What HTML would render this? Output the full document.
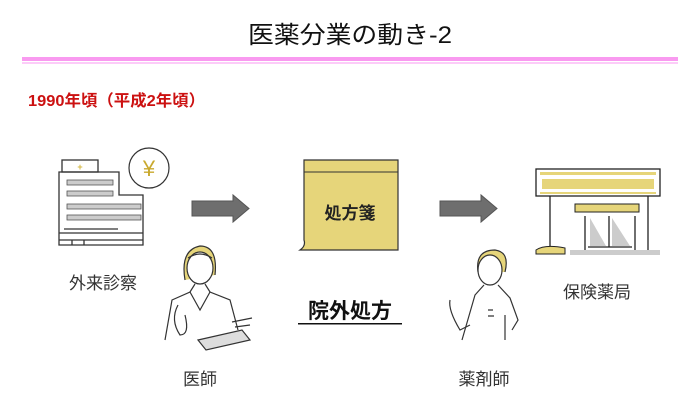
<!DOCTYPE html>
<html><head><meta charset="utf-8"><style>
html,body{margin:0;padding:0;background:#fff;}
svg{display:block;}
text{font-family:"Liberation Sans","Noto Sans CJK JP",sans-serif;}
</style></head><body>
<svg width="700" height="403" viewBox="0 0 700 403" xmlns="http://www.w3.org/2000/svg">
<text x="350" y="43" font-size="24" text-anchor="middle" fill="#111" textLength="204" lengthAdjust="spacingAndGlyphs">医薬分業の動き-2</text>
<rect x="22" y="57" width="656" height="4" fill="#f99af0"/>
<rect x="22" y="62.5" width="656" height="1" fill="#f99af0"/>
<text x="28" y="106" font-size="16" font-weight="bold" fill="#cc1111" textLength="177" lengthAdjust="spacingAndGlyphs">1990年頃（平成2年頃）</text>

<!-- clinic -->
<g fill="none" stroke="#333" stroke-width="1.3">
<rect x="62" y="160" width="36" height="12"/>
<path d="M59 172 H119 V195 H143 V245 H59 Z"/>
<path d="M64 229 H118 M59 233 H143 M59 240 H143 M72 240 V245 M84 240 V245"/>
</g>
<rect x="67" y="180" width="46" height="5" fill="#ccc" stroke="#555" stroke-width="0.8"/>
<rect x="67" y="191" width="46" height="5" fill="#ccc" stroke="#555" stroke-width="0.8"/>
<rect x="67" y="204" width="74" height="5" fill="#ccc" stroke="#555" stroke-width="0.8"/>
<rect x="67" y="215" width="74" height="5" fill="#ccc" stroke="#555" stroke-width="0.8"/>
<text x="80" y="170" font-size="9" fill="#d4b840" text-anchor="middle" font-weight="bold">+</text>
<circle cx="149" cy="168" r="20" fill="#fff" stroke="#333" stroke-width="1.2"/>
<text x="149" y="176" font-size="22" text-anchor="middle" fill="#c9a92e">¥</text>
<text x="103" y="289" font-size="17" text-anchor="middle" fill="#333">外来診察</text>

<!-- arrows -->
<path d="M192 201 H233 V195 L249 208.5 L233 222 V216 H192 Z" fill="#6e6e6e" stroke="#555"/>
<path d="M440 201 H481 V195 L497 208.5 L481 222 V216 H440 Z" fill="#6e6e6e" stroke="#555"/>

<!-- prescription -->
<path d="M304 160 H398 V250 H300 Q306 246 304 240 Z" fill="#e6d57a" stroke="#333" stroke-width="1.2"/>
<path d="M304 172 H398" stroke="#333" stroke-width="1"/>
<text x="350" y="219" font-size="17" font-weight="bold" text-anchor="middle" fill="#222">処方箋</text>
<text x="350" y="318" font-size="21" font-weight="bold" text-anchor="middle" fill="#111">院外処方</text>
<rect x="298" y="323" width="104" height="1.5" fill="#111"/>

<!-- doctor -->
<g fill="none" stroke="#333" stroke-width="1.2">
<path d="M185 280 Q180 250 200 246 Q218 246 215 275" fill="#e6d57a"/>
<ellipse cx="200" cy="268" rx="13" ry="16" fill="#fff"/>
<path d="M188 258 Q200 250 212 258"/>
<path d="M195 284 L190 292 L172 300 L165 340 M205 284 L210 292 L230 300 L238 330"/>
<path d="M190 292 L200 310 L210 292"/>
<path d="M178 305 Q170 320 180 335 Q190 335 185 315"/>
<path d="M198 340 L242 330 L250 340 L206 350 Z" fill="#ddd"/>
<path d="M232 322 L252 318 M235 327 L250 325"/>
</g>
<text x="200" y="385" font-size="17" text-anchor="middle" fill="#333">医師</text>

<!-- pharmacy -->
<g fill="none" stroke="#222" stroke-width="1.3">
<rect x="536" y="169" width="124" height="27"/>
<path d="M550 196 V250 M648 196 V250"/>
<path d="M585 216 V250 M635 216 V250 M609 216 V247 M588 247 H632"/>
</g>
<rect x="540" y="172" width="116" height="3" fill="#e6d57a"/>
<rect x="542" y="179" width="112" height="10" fill="#e6d57a"/>
<rect x="540" y="192" width="116" height="2" fill="#e6d57a"/>
<rect x="575" y="204" width="64" height="8" fill="#e6d57a" stroke="#222" stroke-width="1"/>
<path d="M590 218 L606 246 H590 Z M612 218 L630 246 H612 Z" fill="#ccc"/>
<rect x="570" y="250" width="90" height="5" fill="#ccc"/>
<path d="M536 254 V250 Q545 244 565 248 V254 Z" fill="#e6d57a" stroke="#222"/>
<text x="597" y="298" font-size="17" text-anchor="middle" fill="#333">保険薬局</text>

<!-- pharmacist -->
<g fill="none" stroke="#333" stroke-width="1.2">
<path d="M478 272 Q475 250 495 250 Q510 252 505 272" fill="#e6d57a"/>
<ellipse cx="490" cy="270" rx="12" ry="15" fill="#fff"/>
<path d="M484 285 L475 295 L462 340 M498 285 L510 298 L518 320 L512 330 M505 315 L505 340"/>
<path d="M450 300 Q448 310 460 330 L470 325"/>
<path d="M488 310 H493 M488 316 H494"/>
</g>
<text x="484" y="385" font-size="17" text-anchor="middle" fill="#333">薬剤師</text>
</svg>
</body></html>
